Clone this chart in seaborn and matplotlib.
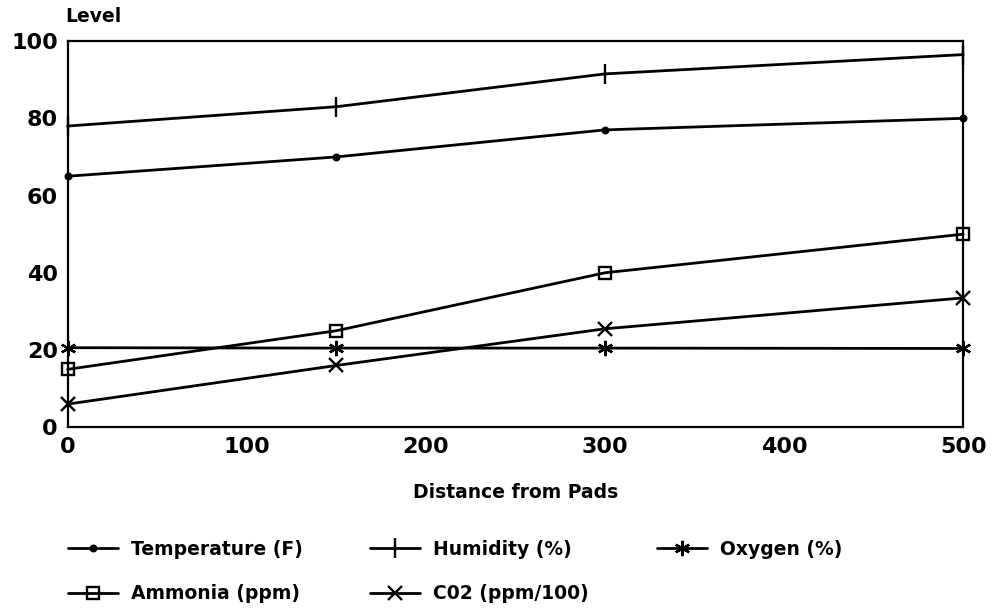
import pandas as pd
import numpy as np
import matplotlib
matplotlib.use('Agg')
import matplotlib.pyplot as plt
import seaborn as sns

# data
distance = [0, 150, 300, 500]
temperature = [65, 70, 77, 80]
humidity = [78, 83, 91.5, 96.5]
oxygen = [20.6, 20.5, 20.5, 20.4]
ammonia = [15, 25, 40, 50]
co2 = [6, 16, 25.5, 33.5]

series_names = ['Temperature (F)', 'Ammonia (ppm)', 'Humidity (%)', 'C02 (ppm/100)', 'Oxygen (%)']
series_values = [temperature, ammonia, humidity, co2, oxygen]
markers = ['o', 's', '|', 'x', (6, 2, 0)]
marker_sizes = [4, 8, 14, 10, 11]

x_ticks = [0, 100, 200, 300, 400, 500]
y_ticks = [0, 20, 40, 60, 80, 100]

sns.set_style('white')
plt.rcParams['font.family'] = ['DejaVu Sans']
plt.rcParams['font.weight'] = 'bold'
plt.rcParams['text.color'] = 'black'

fig = plt.figure(figsize=(9.95, 6.13), dpi=100)
ax = fig.add_axes([0.068, 0.303, 0.900, 0.630])

for name, vals, mk, ms in zip(series_names, series_values, markers, marker_sizes):
    df = pd.DataFrame({'Distance': distance, 'Level': vals})
    sns.lineplot(data=df, x='Distance', y='Level', ax=ax, color='black', lw=2,
                 marker=mk, markersize=ms, markerfacecolor='none' if mk == 's' else 'black',
                 markeredgecolor='black', markeredgewidth=1.7, label=name, clip_on=False)

ax.set_xlim(0, 500)
ax.set_ylim(0, 100)
ax.set_xticks(x_ticks)
ax.set_yticks(y_ticks)
ax.tick_params(direction='in', length=8, width=1.5, labelsize=16, pad=7,
               colors='black', labelcolor='black')
for lbl in ax.get_xticklabels() + ax.get_yticklabels():
    lbl.set_fontweight('bold')
for sp in ax.spines.values():
    sp.set_visible(True)
    sp.set_color('black')
    sp.set_linewidth(1.6)

ax.set_ylabel('')
ax.set_xlabel('Distance from Pads', fontsize=13.5, fontweight='bold', labelpad=19, color='black')
ax.text(-0.003, 1.04, 'Level', transform=ax.transAxes, fontsize=13.5, fontweight='bold',
        ha='left', va='bottom', color='black')

ax.legend(loc='upper left', bbox_to_anchor=(0.068, 0.119), bbox_transform=fig.transFigure,
          ncol=3, frameon=False, fontsize=13.5, handlelength=2.67, handletextpad=0.7,
          columnspacing=3.6, labelspacing=1.35, borderaxespad=0, borderpad=0)

plt.savefig('out.png', dpi=100)
